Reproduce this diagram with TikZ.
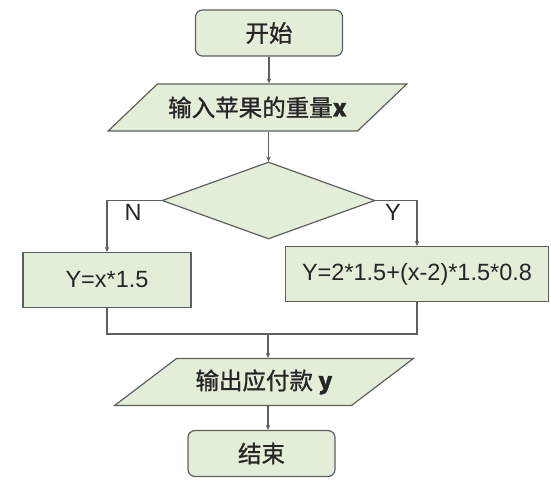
\documentclass[tikz,border=0pt]{standalone}
\usepackage{fontspec}
\setmainfont{Liberation Sans}
\newfontfamily\cjk[FakeBold=1]{Noto Sans CJK SC}
\usepackage{tikz}
\usetikzlibrary{shapes.geometric,arrows.meta}
\definecolor{boxfill}{RGB}{227,238,217}
\definecolor{boxline}{RGB}{95,95,95}

\begin{document}
\begin{tikzpicture}[x=1pt,y=-1pt,
    font=\fontsize{23.5}{28}\selectfont,
    every node/.style={text=black!85},
    term/.style={draw=boxline,fill=boxfill,line width=1.2pt,rounded corners=7pt,minimum width=147pt,minimum height=46pt},
    proc/.style={draw=boxline,fill=boxfill,line width=1.2pt,minimum height=55pt},
    io/.style={draw=boxline,fill=boxfill,line width=1.2pt,trapezium,trapezium left angle=32,trapezium right angle=148,trapezium stretches=true,minimum width=299pt,minimum height=47pt},
    cond/.style={draw=boxline,fill=boxfill,line width=1.2pt,diamond,minimum width=213pt,minimum height=77pt},
    line/.style={draw=boxline,line width=1.1pt},
    arr/.style={line,-{Stealth[length=5pt,width=4.5pt]}}]
    \useasboundingbox (0,0) rectangle (551,487);

    \node[term] (start) at (269,33) {\cjk 开始};
    \node[io] (in) at (257.5,107.5) {\cjk 输入苹果的重量\textbf{x}};
    \node[cond] (dec) at (268.5,200.5) {};
    \node[proc,minimum width=168pt] (yl) at (107,280) {Y=x*1.5};
    \node[proc,minimum width=263pt] (yr) at (417,274) {Y=2*1.5+(x-2)*1.5*0.8};
    \node[io] (out) at (264,382) {\cjk 输出应付款 \textbf{y}};
    \node[term] (end) at (261.5,453.5) {\cjk 结束};

    \node (lbln) at (133,212) {N};
    \node (lbly) at (393,212) {Y};
    \coordinate (m) at (268,334);

    \draw[arr] (start.south) -- (start.south |- in.north);
    \draw[arr] (dec.north |- in.south) -- (dec.north);
    \draw[arr] (dec.west) -| (yl.north);
    \draw[arr] (dec.east) -| (yr.north);
    \draw[line] (yl.south) |- (yr.south |- m) -- (yr.south);
    \draw[arr] (m) -- (m |- out.north);
    \draw[arr] (m |- out.south) -- (m |- end.north);
\end{tikzpicture}
\end{document}
